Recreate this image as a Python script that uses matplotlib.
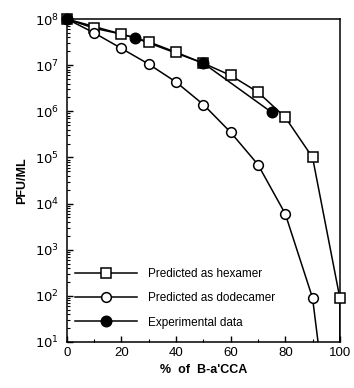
import numpy as np
import matplotlib.pyplot as plt
from matplotlib.ticker import LogLocator, MultipleLocator, FixedLocator

plt.rcParams['font.family'] = ['Liberation Sans', 'DejaVu Sans']

# Predicted as hexamer
hex_x = [0, 10, 20, 30, 40, 50, 60, 70, 80, 90, 100, 100]
hex_y = [1e8, 6.3e7, 4.7e7, 3.2e7, 1.9e7, 1.1e7, 6e6, 2.6e6, 7.4e5, 1e5, 90, 1e-3]

# Predicted as dodecamer
dod_x = [0, 10, 20, 30, 40, 50, 60, 70, 80, 90, 100]
dod_y = [1e8, 5e7, 2.3e7, 1.05e7, 4.3e6, 1.4e6, 3.5e5, 7e4, 6e3, 90, 1.6e-3]

# Experimental data
exp_x = [0, 25, 50, 75]
exp_y = [1e8, 3.9e7, 1.1e7, 9.5e5]

fig = plt.figure(figsize=(3.54, 3.88), dpi=100)
ax = fig.add_axes([0.189, 0.1186, 0.771, 0.8324])

lw = 1.1
ymin = 10


def curve(x, y, marker, mfc, ms, label, z):
    # line clipped at the axes, markers drawn whole on the spines
    ax.plot(x, y, '-', color='black', lw=lw)
    xs = [a for a, b in zip(x, y) if b >= ymin]
    ys = [b for b in y if b >= ymin]
    ax.plot(xs, ys, ls='none', marker=marker, mfc=mfc, mec='black', mew=1.1,
            ms=ms, clip_on=False, zorder=z)
    ax.plot([], [], '-', marker=marker, color='black', mfc=mfc, mec='black',
            mew=1.1, ms=ms, lw=lw, label=label)


curve(hex_x, hex_y, 's', 'white', 6.5, 'Predicted as hexamer', 3)
curve(dod_x, dod_y, 'o', 'white', 7, 'Predicted as dodecamer', 3.1)
curve(exp_x, exp_y, 'o', 'black', 7.5, 'Experimental data', 3.2)

ax.set_yscale('log')
ax.set_xlim(0, 100)
ax.set_ylim(ymin, 1e8)

ax.xaxis.set_major_locator(MultipleLocator(20))
ax.xaxis.set_minor_locator(MultipleLocator(10))
ax.yaxis.set_major_locator(FixedLocator([10**k for k in range(1, 9)]))
ax.yaxis.set_minor_locator(LogLocator(base=10, subs=np.arange(2, 10), numticks=20))
ax.set_yticklabels([r'$10^{%d}$' % k for k in range(1, 9)])

ax.tick_params(which='both', direction='in', labelsize=9.5)
ax.tick_params(axis='y', which='major', pad=5.5)
ax.tick_params(which='major', length=4, width=1)
ax.tick_params(which='minor', length=2, width=0.8)
for s in ax.spines.values():
    s.set_linewidth(1.1)

ax.set_xlabel("%  of  B-a'CCA", fontsize=9, fontweight='bold', labelpad=4)
ax.set_ylabel('PFU/ML', fontsize=9, fontweight='bold', labelpad=5)

ax.legend(loc='lower left', bbox_to_anchor=(0.0, 0.016), frameon=False,
          fontsize=8.5, handlelength=5.2, borderaxespad=0.3,
          labelspacing=1.05, handletextpad=1.0)

fig.savefig('out.png', dpi=100)
